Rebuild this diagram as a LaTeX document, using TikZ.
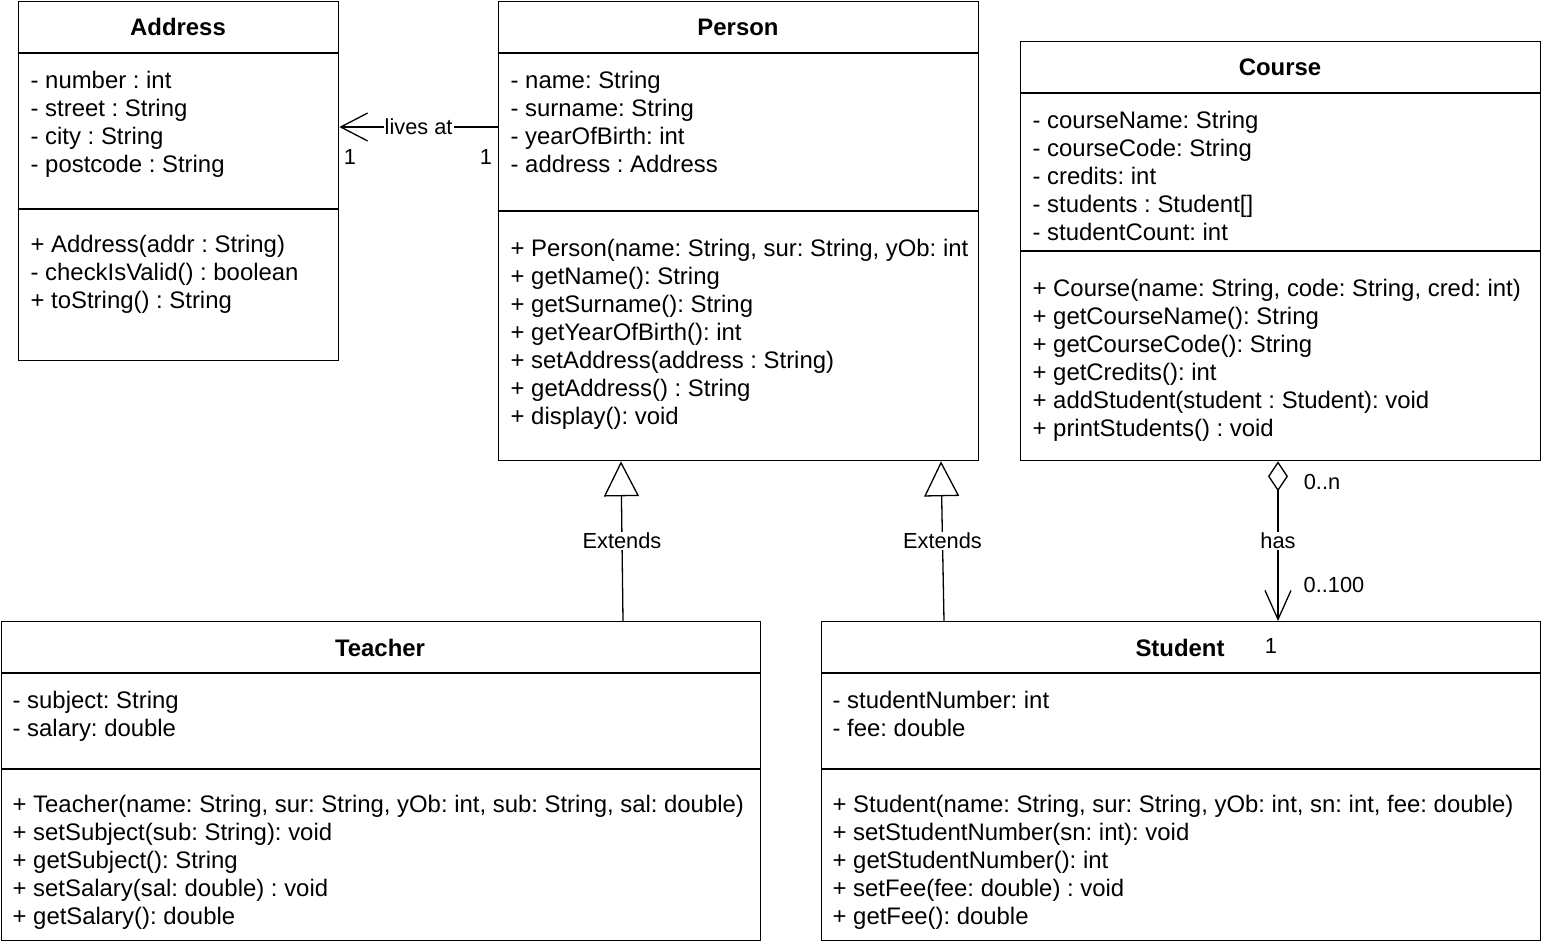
\documentclass[tikz,border=0pt]{standalone}
\usepackage{fontspec}
\setmainfont{Liberation Sans}
\usetikzlibrary{arrows.meta,calc}
\frenchspacing

\begin{document}
\begin{tikzpicture}[
    x = 1pt, y = -1pt, % pixel grid, y goes down
    line width = 1.3pt,
    classbox/.style = {draw, anchor=north west, inner sep=0pt},
    classname/.style = {font=\fontsize{23.9}{28}\selectfont\bfseries, anchor=base, inner sep=0pt},
    members/.style = {font=\fontsize{23.9}{28}\selectfont, align=left, anchor=base west, inner sep=0pt}, % base = last line
    edgelabel/.style = {font=\fontsize{21.8}{24}\selectfont, inner sep=1pt, fill=white},
    mult/.style = {font=\fontsize{21.8}{24}\selectfont, inner sep=0pt}
    ]

    \useasboundingbox (0,0) rectangle (1542,948);

    % class boxes
    \node[classbox, minimum width=320pt, minimum height=359pt] (address) at (18,1) {};
    \node[classbox, minimum width=480pt, minimum height=459pt] (person) at (498,1) {};
    \node[classbox, minimum width=520pt, minimum height=419pt] (course) at (1020,41) {};
    \node[classbox, minimum width=759pt, minimum height=319pt] (teacher) at (1,621) {};
    \node[classbox, minimum width=719pt, minimum height=319pt] (student) at (821,621) {};

    % compartments
    \draw (18,53) -- (338,53);
    \draw (18,209) -- (338,209);
    \draw (498,53) -- (978,53);
    \draw (498,211) -- (978,211);
    \draw (1020,93) -- (1540,93);
    \draw (1020,251) -- (1540,251);
    \draw (1,673) -- (760,673);
    \draw (1,769) -- (760,769);
    \draw (821,673) -- (1540,673);
    \draw (821,769) -- (1540,769);

    % Address
    \node[classname] (addresst) at (178,35.6) {Address};
    \node[members] (addressa) at (30,172.6) {- number : int\\- street : String\\- city : String\\- postcode : String};
    \node[members] (addressm) at (30,308.6) {+ Address(addr : String)\\- checkIsValid() : boolean\\+ toString() : String};

    % Person
    \node[classname] (persont) at (738,35.6) {Person};
    \node[members] (persona) at (510,172.6) {- name: String\\- surname: String\\- yearOfBirth: int\\- address : Address};
    \node[members] (personm) at (510,424.6) {+ Person(name: String, sur: String, yOb: int\\+ getName(): String\\+ getSurname(): String\\+ getYearOfBirth(): int\\+ setAddress(address : String)\\+ getAddress() : String\\+ display(): void};

    % Course
    \node[classname] (courset) at (1280,75.6) {Course};
    \node[members] (coursea) at (1032,240.6) {- courseName: String\\- courseCode: String\\- credits: int\\- students : Student[]\\- studentCount: int};
    \node[members] (coursem) at (1032,436.6) {+ Course(name: String, code: String, cred: int)\\+ getCourseName(): String\\+ getCourseCode(): String\\+ getCredits(): int\\+ addStudent(student : Student): void\\+ printStudents() : void};

    % Teacher
    \node[classname] (teachert) at (380,656.6) {Teacher};
    \node[members] (teachera) at (12,736.6) {- subject: String\\- salary: double};
    \node[members] (teacherm) at (12,924.6) {+ Teacher(name: String, sur: String, yOb: int, sub: String, sal: double)\\+ setSubject(sub: String): void\\+ getSubject(): String\\+ setSalary(sal: double) : void\\+ getSalary(): double};

    % Student
    \node[classname] (studentt) at (1180,656.6) {Student};
    \node[members] (studenta) at (832,736.6) {- studentNumber: int\\- fee: double};
    \node[members] (studentm) at (832,924.6) {+ Student(name: String, sur: String, yOb: int, sn: int, fee: double)\\+ setStudentNumber(sn: int): void\\+ getStudentNumber(): int\\+ setFee(fee: double) : void\\+ getFee(): double};

    % associations
    \draw[-{Straight Barb[length=27pt,width=28pt]}] ($(person.north west)+(0,126)$) -- node[edgelabel] (livesat) {lives at} ($(address.north east)+(0,126)$);
    \draw[-{Triangle[fill=white,length=35pt,width=35pt]}] ($(teacher.north west)+(622,0)$) -- node[edgelabel] (ext1) {Extends} ($(person.south west)+(123,0)$);
    \draw[-{Triangle[fill=white,length=35pt,width=35pt]}] ($(student.north west)+(123,0)$) -- node[edgelabel] (ext2) {Extends} ($(person.south west)+(443,0)$);
    \draw[{Diamond[fill=white,length=30pt,width=20pt]}-{Straight Barb[length=29pt,width=26pt]}] ($(course.south west)+(258,0)$) -- node[edgelabel] (has) {has} ($(student.north west)+(457,0)$);

    % multiplicities
    \node[mult] (m1) at (350,157) {1};
    \node[mult] (m2) at (486,157) {1};
    \node[mult] (m3) at (1322,482) {0..n};
    \node[mult] (m4) at (1334,585) {0..100};
    \node[mult] (m5) at (1271,646) {1};
\end{tikzpicture}
\end{document}
